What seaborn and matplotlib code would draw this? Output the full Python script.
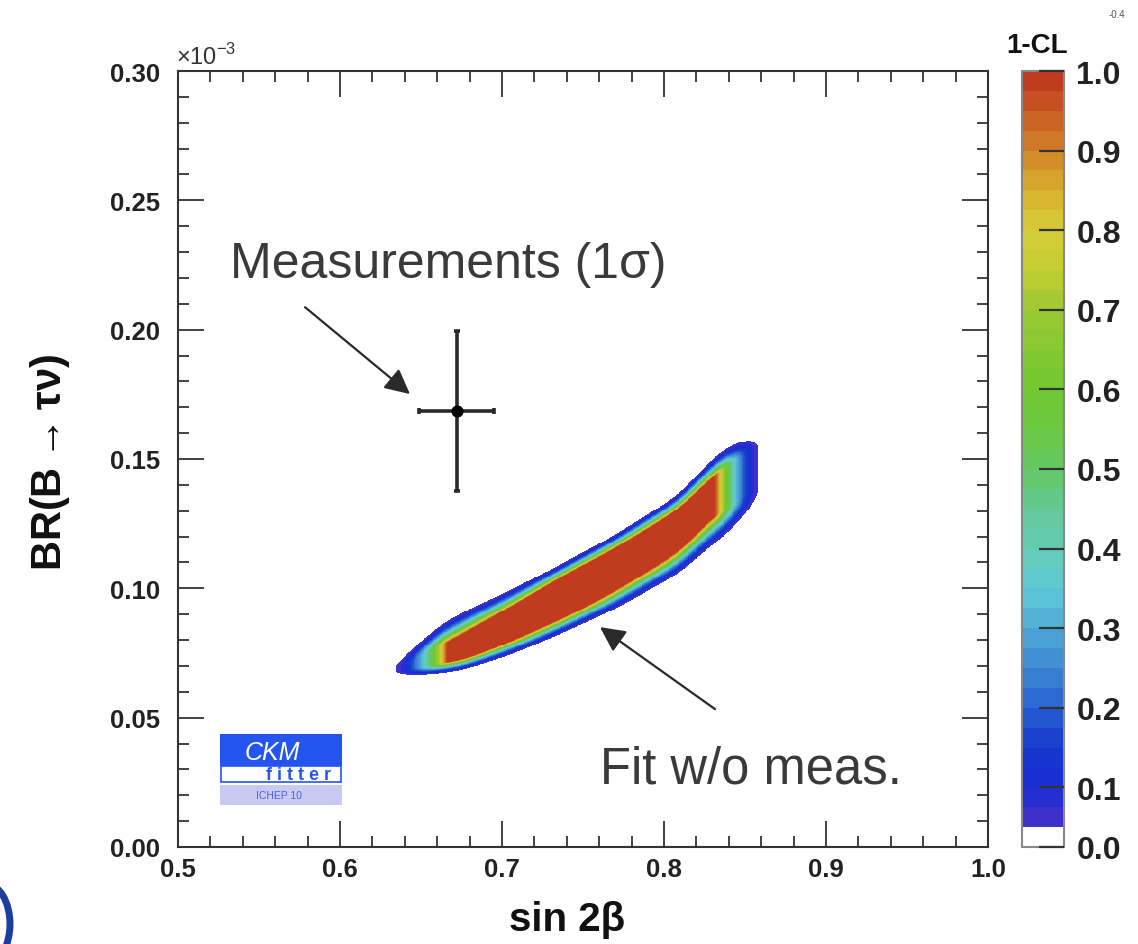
import math
import numpy as np
import matplotlib
matplotlib.use("Agg")
import matplotlib.pyplot as plt
import seaborn as sns
from matplotlib.colors import ListedColormap, BoundaryNorm
from matplotlib.patches import Rectangle, Ellipse
from matplotlib.ticker import MultipleLocator, FormatStrFormatter

# ---------------- data ----------------
# Fit w/o measurement: 1-CL region (y in units of 1e-3)
band_x = [0.634, 0.6667, 0.6759, 0.7068, 0.7401, 0.7685, 0.8099, 0.8302, 0.8593]
band_center = [0.0680, 0.0754, 0.0773, 0.0866, 0.0974, 0.1067, 0.1225, 0.1357, 0.1477]
band_red_half = [0.0, 0.0039, 0.0050, 0.0066, 0.0081, 0.0081, 0.0081, 0.0077, 0.0077]
band_edge_top = [0.0054, 0.0085, 0.0085, 0.0066, 0.0050, 0.0054, 0.0058, 0.0073, 0.0078]
band_edge_bottom = [0.0031, 0.0039, 0.0039, 0.0054, 0.0058, 0.0070, 0.0085, 0.0108, 0.0097]
red_x_range = [0.6667, 0.8315]
outer_x_range = [0.6346, 0.858]

# Measurement (1 sigma)
meas_x = [0.672]
meas_y = [0.1685]
meas_xerr = [0.023]
meas_yerr = [0.031]

x_ticks = [0.5, 0.6, 0.7, 0.8, 0.9, 1.0]
y_ticks = [0.00, 0.05, 0.10, 0.15, 0.20, 0.25, 0.30]
cbar_ticks = [0.0, 0.1, 0.2, 0.3, 0.4, 0.5, 0.6, 0.7, 0.8, 0.9, 1.0]

# ---------------- style ----------------
sns.set_theme(style="ticks")
plt.rcParams['font.family'] = ['Liberation Sans', 'DejaVu Sans']
plt.rcParams['mathtext.fontset'] = 'custom'
plt.rcParams['mathtext.rm'] = 'Liberation Sans'
plt.rcParams['mathtext.bf'] = 'Liberation Sans:bold'
plt.rcParams['axes.axisbelow'] = False

W, H = 1138, 945
fig = plt.figure(figsize=(W / 100, H / 100), dpi=100)
fig.patch.set_facecolor('white')

def fx(px):
    return px / W

def fy(py):
    return 1 - py / H

ax = fig.add_axes([fx(178), fy(848), fx(988) - fx(178), fy(72) - fy(848)])
cax = fig.add_axes([fx(1022), fy(848), fx(1064) - fx(1022), fy(72) - fy(848)])

# ---------------- 1-CL field ----------------
gx = np.linspace(0.5, 1.0, 900)
gy = np.linspace(0.0, 0.30, 800)

def smooth_profile(vals, sigma=0.007):
    p = np.interp(gx, band_x, vals)
    dx = gx[1] - gx[0]
    n = int(4 * sigma / dx)
    k = np.exp(-0.5 * (np.arange(-n, n + 1) * dx / sigma) ** 2)
    k /= k.sum()
    return np.convolve(np.pad(p, n, mode='edge'), k, mode='valid')

yc = smooth_profile(band_center)[None, :]
hr = smooth_profile(band_red_half)[None, :]
wt = smooth_profile(band_edge_top)[None, :]
wb = smooth_profile(band_edge_bottom)[None, :]
X, Y = np.meshgrid(gx, gy)
dy = Y - yc
sy = np.where(dy > 0, (dy - hr) / wt, (-dy - hr) / wb)
sy = np.clip(sy, 0, None)
sxl = (red_x_range[0] - X) / (red_x_range[0] - outer_x_range[0])
sxr = (X - red_x_range[1]) / (outer_x_range[1] - red_x_range[1])
sx = np.clip(np.maximum(sxl, sxr), 0, None)
s = np.sqrt(sy ** 2 + sx ** 2)
erfc = np.vectorize(math.erfc)
cl = erfc(1.96 * s / math.sqrt(2))

levels = np.round(np.concatenate([[0.0], np.arange(0.05, 1.0001, 0.025)]), 4)
anchor_v = [0.05, 0.1, 0.15, 0.2, 0.25, 0.3, 0.35, 0.4, 0.45, 0.5, 0.55, 0.6,
            0.7, 0.75, 0.8, 0.85, 0.9, 0.95, 1.0]
anchor_c = np.array([
    (72, 50, 200), (25, 45, 210), (20, 55, 205), (40, 95, 210), (60, 135, 210),
    (80, 170, 215), (95, 200, 215), (100, 205, 180), (100, 200, 150), (100, 200, 100),
    (108, 200, 65), (112, 200, 50), (155, 200, 50), (195, 205, 50), (215, 205, 55),
    (215, 175, 45), (210, 130, 40), (200, 90, 35), (190, 50, 30)]) / 255.0
cols = [(1, 1, 1)]
for lo, hi in zip(levels[1:-1], levels[2:]):
    m = 0.5 * (lo + hi)
    cols.append(tuple(np.interp(m, anchor_v, anchor_c[:, k]) for k in range(3)))
cmap = ListedColormap(cols)
norm = BoundaryNorm(levels, cmap.N)
mesh = ax.pcolormesh(gx, gy, cl, cmap=cmap, norm=norm, shading='nearest',
                     rasterized=True, zorder=1)

# ---------------- measurement ----------------
ax.errorbar(meas_x, meas_y, xerr=meas_xerr, yerr=meas_yerr, fmt='none',
            ecolor='#2a2a2a', elinewidth=2.6, capsize=2.5, capthick=2.6, zorder=5)
sns.scatterplot(x=meas_x, y=meas_y, ax=ax, color='black', s=65, zorder=6,
                edgecolor='black', legend=False)

# ---------------- annotations ----------------
arrow_kw = dict(arrowstyle='-|>', mutation_scale=38, lw=1.6, color='#2a2a2a',
                shrinkA=0, shrinkB=0)
ax.annotate('', xy=(0.6432, 0.1751), xytext=(0.5784, 0.2087), arrowprops=arrow_kw)
ax.annotate('', xy=(0.7605, 0.0850), xytext=(0.8315, 0.0533), arrowprops=arrow_kw)
ax.text(0.532, 0.2254, 'Measurements (1σ)', fontsize=36, color='#3a3a3a',
        ha='left', va='center')
ax.text(0.7605, 0.0302, 'Fit w/o meas.', fontsize=36.5, color='#3a3a3a',
        ha='left', va='center')

# ---------------- axes ----------------
ax.set_xlim(0.5, 1.0)
ax.set_ylim(0.0, 0.30)
ax.set_xticks(x_ticks)
ax.set_yticks(y_ticks)
ax.xaxis.set_major_formatter(FormatStrFormatter('%.1f'))
ax.yaxis.set_major_formatter(FormatStrFormatter('%.2f'))
ax.xaxis.set_minor_locator(MultipleLocator(0.02))
ax.yaxis.set_minor_locator(MultipleLocator(0.01))
ax.set_axisbelow(False)
ax.tick_params(which='both', direction='in', top=True, right=True, color='#333333',
               width=1.3)
ax.tick_params(which='major', length=19)
ax.tick_params(which='minor', length=8)
ax.tick_params(axis='y', labelsize=18.5, pad=13)
ax.tick_params(axis='x', labelsize=18.5, pad=7)
for lab in ax.get_xticklabels() + ax.get_yticklabels():
    lab.set_fontweight('bold')
    lab.set_color('#222222')
for sp in ax.spines.values():
    sp.set_color('#333333')
    sp.set_linewidth(1.5)
ax.set_xlabel('')
ax.set_ylabel('')
ax.text(-0.002, 1.003, r'$\times10^{-3}$', transform=ax.transAxes, fontsize=17,
        ha='left', va='bottom', color='#333333')

fig.text(0.044, 0.511, r'BR(B$\rightarrow$τν)', rotation=90, fontsize=30,
         fontweight='bold', ha='center', va='center', color='#111111')
fig.text(0.498, 0.026, 'sin 2β', fontsize=29, fontweight='bold',
         ha='center', va='center', color='#111111')

# ---------------- colorbar ----------------
cb = fig.colorbar(mesh, cax=cax, ticks=cbar_ticks)
cb.outline.set_edgecolor('#888888')
cb.outline.set_linewidth(1.5)
cax.set_axisbelow(False)
cax.yaxis.set_major_formatter(FormatStrFormatter('%.1f'))
cax.tick_params(direction='in', length=18, width=1.6, color='#333333', right=True,
                left=False, labelright=True, labelleft=False, labelsize=23, pad=9)
for lab in cax.get_yticklabels():
    lab.set_fontweight('bold')
    lab.set_color('#222222')
cax.minorticks_off()
fig.text(fx(1037), fy(46), '1-CL', fontsize=20, fontweight='bold', ha='center',
         va='center', color='#111111')
fig.text(fx(1117), fy(15), '-0.4', fontsize=7, ha='center', va='center', color='#555555')

# ---------------- CKMfitter logo ----------------
lax = fig.add_axes([fx(220), fy(806), fx(342) - fx(220), fy(735) - fy(806)])
lax.set_xlim(0, 1)
lax.set_ylim(0, 1)
lax.axis('off')
blue = '#2455ee'
lax.add_patch(Rectangle((0, 0.55), 1, 0.45, color=blue, lw=0))
lax.add_patch(Rectangle((0.005, 0.33), 0.99, 0.22, facecolor='white', edgecolor=blue,
                        lw=1.2))
lax.add_patch(Rectangle((0, 0), 1, 0.28, color='#c8caf2', lw=0))
lax.text(0.43, 0.74, 'CKM', fontsize=18, style='italic', color='white',
         ha='center', va='center')
lax.text(0.64, 0.43, 'f i t t e r', fontsize=13, color=blue, ha='center', va='center',
         fontweight='bold')
lax.text(0.48, 0.14, 'ICHEP 10', fontsize=7.5, color='#5060e0', ha='center',
         va='center')

# slide remnant at the bottom-left corner
fig.patches.append(Ellipse((fx(-14), fy(925)), 48 / W, 80 / H, transform=fig.transFigure,
                           facecolor='none', edgecolor='#1c3f9e', lw=5))

fig.savefig('out.png', dpi=100, facecolor='white')
